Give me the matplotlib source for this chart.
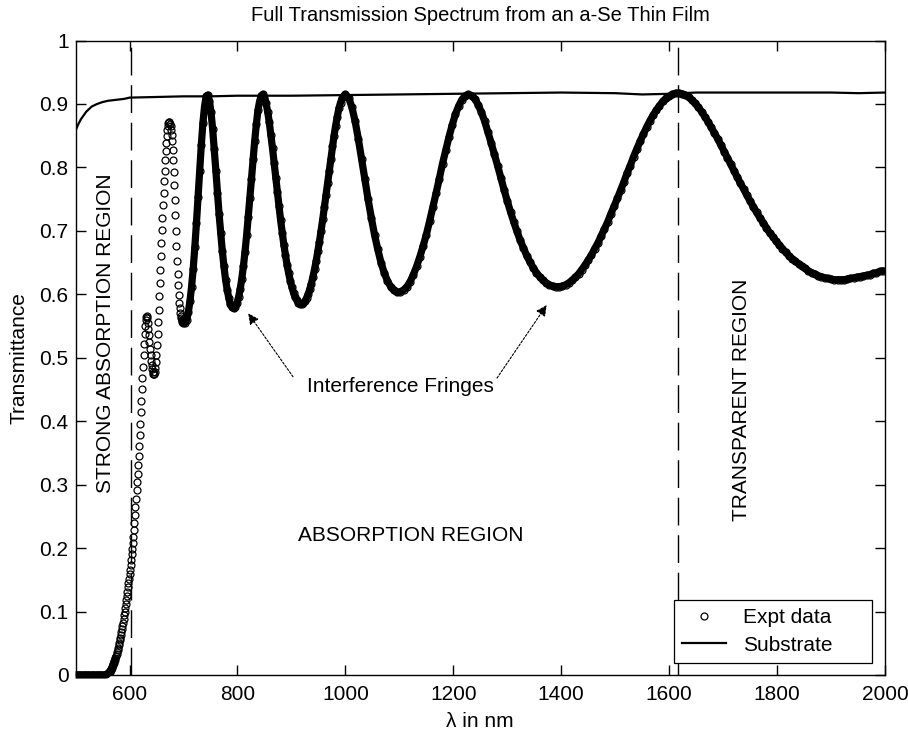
import matplotlib.pyplot as plt
import numpy as np

plt.rcParams['font.family'] = ['Liberation Sans', 'DejaVu Sans']

wl_flat = np.arange(500, 555, 3)
t_flat = [0.000, 0.000, 0.000, 0.000, 0.000, 0.000, 0.000, 0.000, 0.000, 0.000,
          0.000, 0.000, 0.000, 0.000, 0.000, 0.000, 0.000, 0.000, 0.000]

wl_edge = np.arange(556, 701, 1)
t_edge = [0.000, 0.000, 0.001, 0.001, 0.002, 0.003, 0.004, 0.005, 0.006, 0.008,
          0.009, 0.011, 0.013, 0.015, 0.017, 0.019, 0.022, 0.024, 0.027, 0.030,
          0.033, 0.036, 0.040, 0.043, 0.047, 0.051, 0.055, 0.059, 0.063, 0.067,
          0.072, 0.077, 0.082, 0.088, 0.094, 0.100, 0.106, 0.112, 0.118, 0.124,
          0.131, 0.138, 0.145, 0.152, 0.159, 0.166, 0.174, 0.182, 0.190, 0.199,
          0.208, 0.218, 0.229, 0.240, 0.252, 0.265, 0.278, 0.291, 0.304, 0.317,
          0.331, 0.345, 0.361, 0.378, 0.396, 0.414, 0.432, 0.450, 0.468, 0.486,
          0.504, 0.522, 0.538, 0.550, 0.559, 0.565, 0.566, 0.562, 0.555, 0.546,
          0.536, 0.525, 0.514, 0.504, 0.495, 0.488, 0.482, 0.478, 0.475, 0.474,
          0.475, 0.478, 0.484, 0.493, 0.505, 0.520, 0.537, 0.556, 0.576, 0.597,
          0.618, 0.639, 0.660, 0.681, 0.701, 0.721, 0.741, 0.760, 0.778, 0.795,
          0.811, 0.826, 0.839, 0.850, 0.859, 0.866, 0.870, 0.872, 0.872, 0.869,
          0.865, 0.859, 0.851, 0.841, 0.828, 0.812, 0.793, 0.772, 0.749, 0.725,
          0.700, 0.676, 0.653, 0.632, 0.614, 0.599, 0.587, 0.578, 0.571, 0.566,
          0.562, 0.559, 0.557, 0.556, 0.555]

wl_mid = np.arange(703, 1001, 3)
t_mid = [0.555, 0.560, 0.572, 0.589, 0.612, 0.640, 0.674, 0.712, 0.753, 0.794,
         0.835, 0.870, 0.896, 0.912, 0.914, 0.905, 0.887, 0.861, 0.829, 0.795,
         0.760, 0.726, 0.696, 0.668, 0.644, 0.623, 0.607, 0.594, 0.584, 0.580,
         0.578, 0.580, 0.586, 0.595, 0.608, 0.624, 0.644, 0.667, 0.693, 0.722,
         0.752, 0.782, 0.813, 0.842, 0.868, 0.890, 0.904, 0.913, 0.915, 0.910,
         0.901, 0.888, 0.871, 0.851, 0.830, 0.807, 0.784, 0.761, 0.739, 0.717,
         0.697, 0.678, 0.662, 0.646, 0.633, 0.621, 0.611, 0.602, 0.595, 0.591,
         0.587, 0.585, 0.585, 0.586, 0.589, 0.594, 0.600, 0.608, 0.617, 0.628,
         0.640, 0.653, 0.668, 0.683, 0.700, 0.718, 0.737, 0.756, 0.776, 0.795,
         0.814, 0.833, 0.850, 0.866, 0.880, 0.893, 0.902, 0.909, 0.913, 0.915]

wl_long = np.arange(1006, 1997, 6)
t_long = [0.910, 0.895, 0.873, 0.845, 0.814, 0.782, 0.750, 0.721, 0.694, 0.671,
          0.650, 0.634, 0.621, 0.612, 0.606, 0.603, 0.604, 0.607, 0.612, 0.620,
          0.631, 0.644, 0.659, 0.676, 0.694, 0.715, 0.737, 0.759, 0.782, 0.806,
          0.827, 0.848, 0.867, 0.884, 0.897, 0.907, 0.913, 0.915, 0.913, 0.908,
          0.899, 0.887, 0.873, 0.856, 0.839, 0.821, 0.803, 0.784, 0.765, 0.747,
          0.730, 0.714, 0.699, 0.685, 0.673, 0.661, 0.651, 0.642, 0.634, 0.628,
          0.622, 0.618, 0.615, 0.613, 0.612, 0.612, 0.613, 0.615, 0.618, 0.622,
          0.627, 0.632, 0.639, 0.646, 0.654, 0.662, 0.672, 0.681, 0.692, 0.703,
          0.714, 0.727, 0.739, 0.751, 0.764, 0.777, 0.791, 0.803, 0.817, 0.829,
          0.841, 0.852, 0.863, 0.873, 0.882, 0.890, 0.897, 0.904, 0.909, 0.912,
          0.915, 0.917, 0.917, 0.916, 0.914, 0.911, 0.906, 0.901, 0.895, 0.888,
          0.880, 0.872, 0.863, 0.854, 0.845, 0.835, 0.825, 0.815, 0.805, 0.795,
          0.785, 0.775, 0.766, 0.756, 0.747, 0.738, 0.729, 0.721, 0.713, 0.705,
          0.697, 0.691, 0.684, 0.678, 0.672, 0.666, 0.661, 0.656, 0.652, 0.648,
          0.644, 0.641, 0.637, 0.634, 0.632, 0.629, 0.628, 0.626, 0.625, 0.624,
          0.623, 0.623, 0.623, 0.623, 0.624, 0.625, 0.626, 0.627, 0.628, 0.629,
          0.630, 0.631, 0.633, 0.634, 0.636, 0.637]

wl_expt = np.concatenate([wl_flat, wl_edge, wl_mid, wl_long])
t_expt = np.concatenate([t_flat, t_edge, t_mid, t_long])

# bare substrate
wl_sub = [500, 505, 510, 515, 520, 525, 530, 540, 550, 560, 570, 580, 590, 600,
          650, 700, 750, 800, 900, 1000, 1100, 1200, 1300, 1400, 1500, 1550,
          1600, 1650, 1700, 1800, 1900, 1950, 2000]
t_sub = [0.858, 0.868, 0.876, 0.882, 0.888, 0.892, 0.896, 0.900, 0.903, 0.905,
         0.906, 0.907, 0.908, 0.910, 0.911, 0.912, 0.912, 0.913, 0.913, 0.914,
         0.915, 0.916, 0.917, 0.918, 0.917, 0.915, 0.916, 0.918, 0.918, 0.918,
         0.918, 0.917, 0.918]

region_edges = [603, 1616]

fig = plt.figure(figsize=(9.08, 7.34), dpi=100)
ax = fig.add_axes([0.0832, 0.0804, 0.8915, 0.8644])

# where the scan points overlap they merge into one thick dark band
ax.plot(np.concatenate([wl_flat, wl_edge[:20]]),
        np.concatenate([t_flat, t_edge[:20]]), '-', color='black', lw=5.2,
        solid_joinstyle='round', solid_capstyle='butt', clip_on=False)
wl_band = np.concatenate([wl_edge[-4:], wl_mid, wl_long])
t_band = np.concatenate([t_edge[-4:], t_mid, t_long])
ax.plot(wl_band, t_band, '-', color='black', lw=5.2,
        solid_joinstyle='round', solid_capstyle='round')
ax.plot(wl_expt, t_expt, 'o', mfc='none', mec='black', ms=5, mew=0.9,
        label='Expt data')
ax.plot(wl_sub, t_sub, '-', color='black', lw=1.6, label='Substrate')
for x in region_edges:
    ax.axvline(x, color='black', lw=1.0, ls=(0, (20, 7)))

ax.set_xlim(500, 2000)
ax.set_ylim(0, 1)
ax.set_xticks(range(600, 2001, 200))
yt = np.round(np.arange(0, 1.01, 0.1), 1)
ax.set_yticks(yt)
ax.set_yticklabels([f'{v:g}' for v in yt])
ax.tick_params(direction='in', length=7, width=1, top=True, right=True,
               labelsize=15)
ax.tick_params(axis='x', pad=7)
ax.tick_params(axis='y', pad=5)
for s in ax.spines.values():
    s.set_linewidth(1.0)

ax.set_title('Full Transmission Spectrum from an a-Se Thin Film',
             fontsize=14.5, pad=14)
ax.set_xlabel('λ in nm', fontsize=15, labelpad=6)
ax.set_ylabel('Transmittance', fontsize=15, labelpad=8)

ax.text(555, 0.539, 'STRONG ABSORPTION REGION', rotation=90, ha='center',
        va='center', fontsize=15)
ax.text(1734, 0.434, 'TRANSPARENT REGION', rotation=90, ha='center',
        va='center', fontsize=15)
ax.text(1122, 0.22, 'ABSORPTION REGION', ha='center', va='center', fontsize=15)
ax.text(1102, 0.455, 'Interference Fringes', ha='center', va='center',
        fontsize=15)

arrow = dict(arrowstyle='-|>', color='black', lw=0.8, ls=(0, (2, 1.5)),
             mutation_scale=16, shrinkA=0, shrinkB=0)
ax.annotate('', xy=(820, 0.570), xytext=(903, 0.470), arrowprops=arrow)
ax.annotate('', xy=(1373, 0.583), xytext=(1281, 0.468), arrowprops=arrow)

leg = ax.legend(loc='lower left', bbox_to_anchor=(0.7393, 0.0189, 0.2446, 0.1),
                mode='expand', fontsize=15, fancybox=False,
                edgecolor='black', framealpha=1, borderaxespad=0,
                handlelength=2.1, handletextpad=0.8, borderpad=0.4,
                labelspacing=0.4, numpoints=1)
leg.get_frame().set_linewidth(0.9)

fig.savefig('out.png', dpi=100)
